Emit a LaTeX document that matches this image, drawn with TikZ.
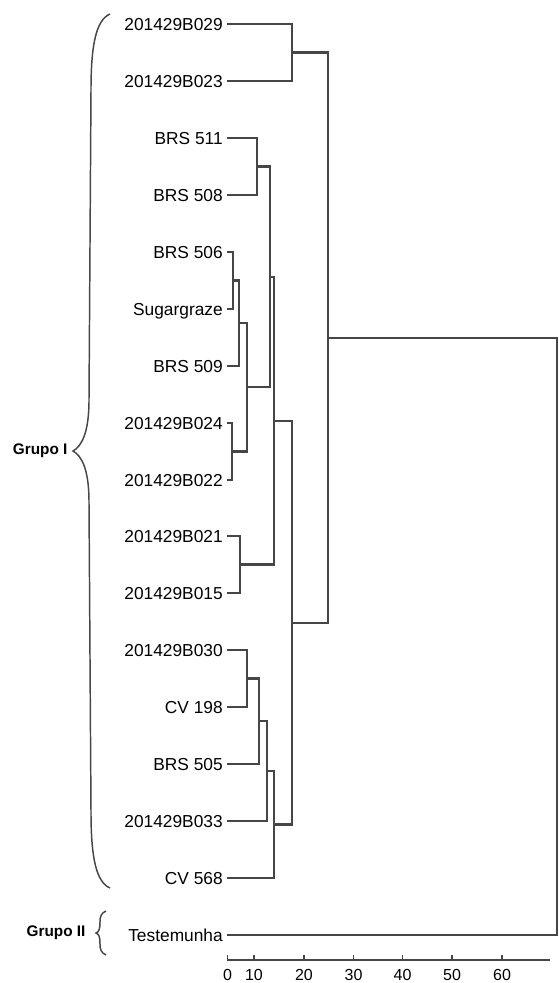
\documentclass[tikz,border=0pt]{standalone}
\usepackage{fontspec}
\setmainfont{Liberation Sans}
\usetikzlibrary{calc}
\definecolor{linegray}{RGB}{70,70,70}

\begin{document}
\begin{tikzpicture}[x=0.75pt,y=-0.75pt,
  leaf/.style={anchor=east,font=\fontsize{13}{15}\selectfont,inner xsep=3pt,
               inner ysep=0pt,text height=9.3pt,text depth=0pt},
  grp/.style={anchor=east,font=\fontsize{11.5}{13}\selectfont\bfseries,inner sep=1pt},
  tick/.style={font=\fontsize{12}{14}\selectfont,inner sep=0pt},
  link/.style={draw=linegray,line width=1.6pt},
  brace/.style={draw=linegray,line width=1.1pt}]
\useasboundingbox (0,0) rectangle (558,983);
\node[leaf] (b029) at (227,24)  {201429B029};
\node[leaf] (b023) at (227,81)  {201429B023};
\node[leaf] (s511) at (227,138) {BRS 511};
\node[leaf] (s508) at (227,195) {BRS 508};
\node[leaf] (s506) at (227,252) {BRS 506};
\node[leaf] (sgz)  at (227,309) {Sugargraze};
\node[leaf] (s509) at (227,366) {BRS 509};
\node[leaf] (b024) at (227,423) {201429B024};
\node[leaf] (b022) at (227,480) {201429B022};
\node[leaf] (b021) at (227,536) {201429B021};
\node[leaf] (b015) at (227,593) {201429B015};
\node[leaf] (b030) at (227,650) {201429B030};
\node[leaf] (cv198) at (227,707) {CV 198};
\node[leaf] (s505) at (227,764) {BRS 505};
\node[leaf] (b033) at (227,821) {201429B033};
\node[leaf] (cv568) at (227,878) {CV 568};
\node[leaf] (tst)  at (227,935) {Testemunha};
\coordinate (m1)  at (292,52.5);
\coordinate (m2)  at (257,166.5);
\coordinate (m3)  at (233,280.5);
\coordinate (m4)  at (239,323);
\coordinate (m5)  at (232,451.5);
\coordinate (m6)  at (247,387);
\coordinate (m7)  at (270,277);
\coordinate (m8)  at (240,564.5);
\coordinate (m9)  at (274,421);
\coordinate (m10) at (247,678.5);
\coordinate (m11) at (259,721);
\coordinate (m12) at (267,771);
\coordinate (m13) at (274,824.5);
\coordinate (m14) at (292,623);
\coordinate (m15) at (328,338);
\coordinate (root) at (557,636.5);
\draw[link] (b029.east) -| (m1);  \draw[link] (b023.east) -| (m1);
\draw[link] (s511.east) -| (m2);  \draw[link] (s508.east) -| (m2);
\draw[link] (s506.east) -| (m3);  \draw[link] (sgz.east)  -| (m3);
\draw[link] (m3) -| (m4);         \draw[link] (s509.east) -| (m4);
\draw[link] (b024.east) -| (m5);  \draw[link] (b022.east) -| (m5);
\draw[link] (m4) -| (m6);         \draw[link] (m5) -| (m6);
\draw[link] (m2) -| (m7);         \draw[link] (m6) -| (m7);
\draw[link] (b021.east) -| (m8);  \draw[link] (b015.east) -| (m8);
\draw[link] (m7) -| (m9);         \draw[link] (m8) -| (m9);
\draw[link] (b030.east) -| (m10); \draw[link] (cv198.east) -| (m10);
\draw[link] (m10) -| (m11);       \draw[link] (s505.east) -| (m11);
\draw[link] (m11) -| (m12);       \draw[link] (b033.east) -| (m12);
\draw[link] (m12) -| (m13);       \draw[link] (cv568.east) -| (m13);
\draw[link] (m9) -| (m14);        \draw[link] (m13) -| (m14);
\draw[link] (m1) -| (m15);        \draw[link] (m14) -| (m15);
\draw[link] (m15) -| (root);      \draw[link] (tst.east) -| (root);
\node[grp] (g1) at (69,451) {Grupo I};
\node[grp] (g2) at (87,933) {Grupo II};
\draw[brace] (110,14) .. controls (96,20) and (91,45) .. (91,90) -- (89,400)
  .. controls (89,432) and (82,446) .. (73,451)
  .. controls (82,456) and (89,470) .. (89,502) -- (91,812)
  .. controls (91,857) and (96,882) .. (110,888);
\draw[brace] (106,911) .. controls (101,913) and (100,917) .. (100,922)
  .. controls (100,929) and (99,932) .. (96,933)
  .. controls (99,934) and (100,937) .. (100,944)
  .. controls (100,949) and (101,953) .. (106,955);
\draw[link,line width=1.4pt] (227,960) -- (550,960);
\draw[link,line width=1.2pt] (227.5,960) -- (227.5,955) (254,960) -- (254,955)
  (304,960) -- (304,955) (353.5,960) -- (353.5,955) (402.5,960) -- (402.5,955)
  (452,960) -- (452,955) (502,960) -- (502,955);
\node[tick] (t0)  at (227.5,975) {0};
\node[tick] (t10) at (254,975)   {10};
\node[tick] (t20) at (304,975)   {20};
\node[tick] (t30) at (353.5,975) {30};
\node[tick] (t40) at (402.5,975) {40};
\node[tick] (t50) at (452,975)   {50};
\node[tick] (t60) at (502,975)   {60};
\end{tikzpicture}
\end{document}
